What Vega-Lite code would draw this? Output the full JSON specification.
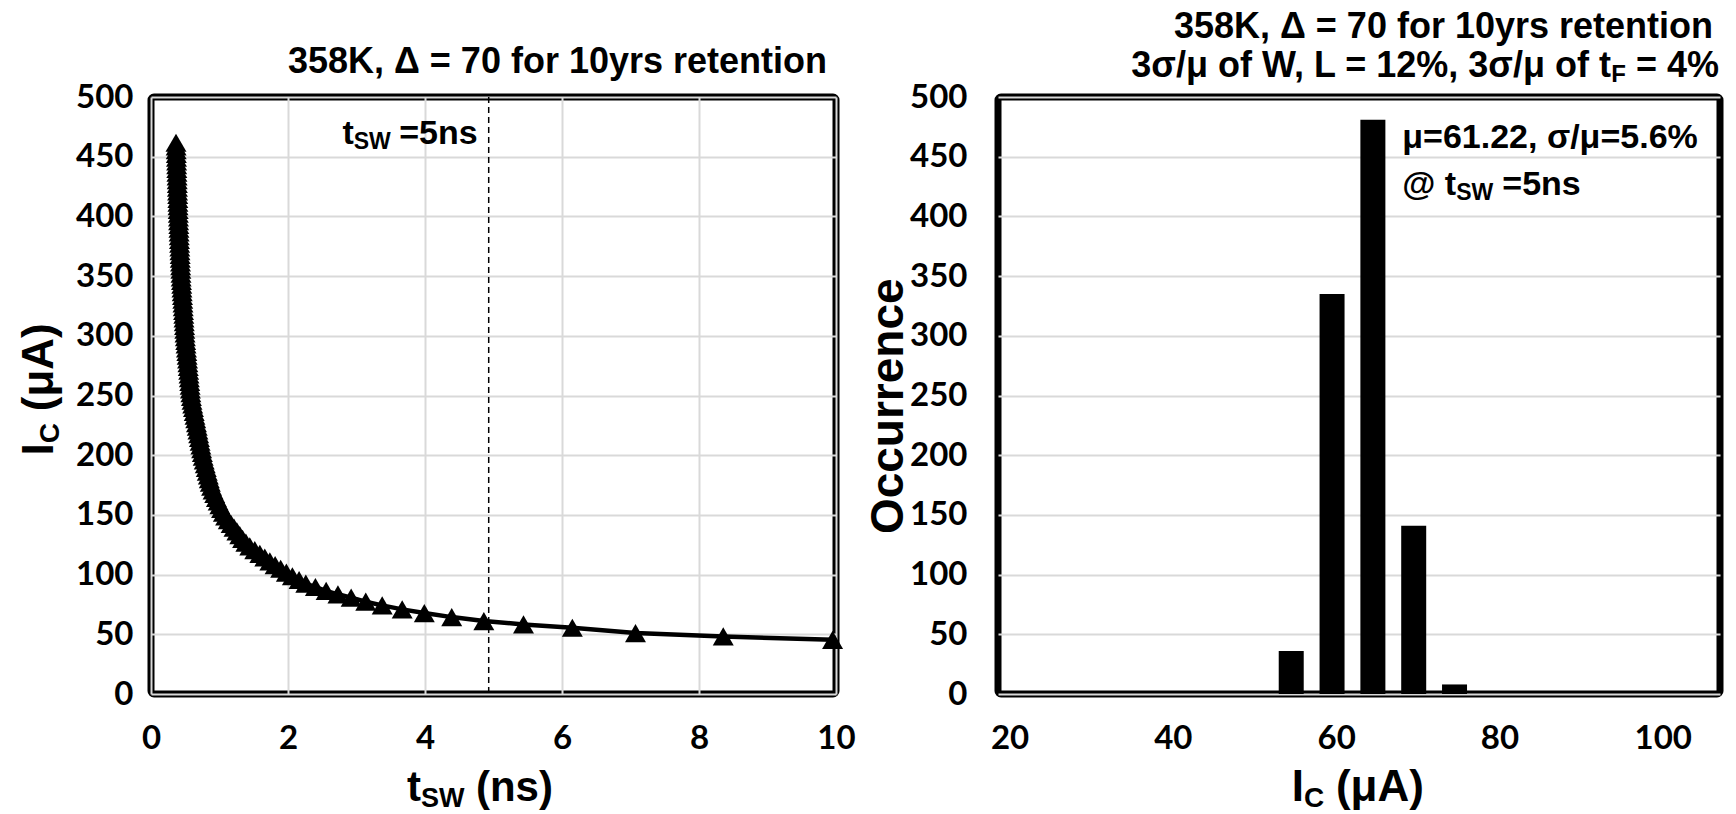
{
  "$schema": "https://vega.github.io/schema/vega-lite/v6.json",
  "background": "white",
  "padding": {"left": 14, "top": 5, "right": 5, "bottom": 5},
  "spacing": 162,
  "bounds": "flush",
  "config": {
    "view": {"stroke": "black", "strokeWidth": 7, "cornerRadius": 3},
    "axis": {
      "grid": true, "gridColor": "#d9d9d9", "gridWidth": 2,
      "domain": false, "ticks": false,
      "labelFont": "Lato", "labelFontWeight": "bold", "labelFontSize": 33, "labelColor": "black",
      "labelFlush": false, "labelOverlap": false
    }
  },
  "hconcat": [
    {
      "width": 685,
      "height": 597,
      "layer": [
        {
          "data": {"values": [{}]},
          "mark": {"type": "rule", "strokeDash": [6, 4], "strokeWidth": 1.5, "color": "black"},
          "encoding": {"x": {"datum": 4.93, "type": "quantitative", "title": null}}
        },
        {
          "data": {"values": [
            {"t": 0.365, "ic": 461.7}, {"t": 0.367, "ic": 458.6}, {"t": 0.368, "ic": 455.4}, {"t": 0.370, "ic": 452.3},
            {"t": 0.372, "ic": 449.2}, {"t": 0.374, "ic": 446.0}, {"t": 0.375, "ic": 442.9}, {"t": 0.377, "ic": 439.8},
            {"t": 0.379, "ic": 436.7}, {"t": 0.381, "ic": 433.5}, {"t": 0.383, "ic": 430.4}, {"t": 0.385, "ic": 427.3},
            {"t": 0.386, "ic": 424.1}, {"t": 0.388, "ic": 421.0}, {"t": 0.390, "ic": 417.9}, {"t": 0.392, "ic": 414.7},
            {"t": 0.393, "ic": 411.6}, {"t": 0.395, "ic": 408.5}, {"t": 0.397, "ic": 405.4}, {"t": 0.399, "ic": 402.2},
            {"t": 0.401, "ic": 399.1}, {"t": 0.403, "ic": 396.0}, {"t": 0.406, "ic": 392.8}, {"t": 0.408, "ic": 389.7},
            {"t": 0.411, "ic": 386.6}, {"t": 0.413, "ic": 383.4}, {"t": 0.416, "ic": 380.3}, {"t": 0.418, "ic": 377.2},
            {"t": 0.421, "ic": 374.0}, {"t": 0.423, "ic": 370.9}, {"t": 0.426, "ic": 367.8}, {"t": 0.428, "ic": 364.7},
            {"t": 0.431, "ic": 361.5}, {"t": 0.433, "ic": 358.4}, {"t": 0.436, "ic": 355.3}, {"t": 0.438, "ic": 352.1},
            {"t": 0.441, "ic": 349.0}, {"t": 0.445, "ic": 345.9}, {"t": 0.449, "ic": 342.8}, {"t": 0.452, "ic": 339.6},
            {"t": 0.456, "ic": 336.5}, {"t": 0.460, "ic": 333.4}, {"t": 0.464, "ic": 330.2}, {"t": 0.467, "ic": 327.1},
            {"t": 0.471, "ic": 324.0}, {"t": 0.475, "ic": 320.8}, {"t": 0.479, "ic": 317.7}, {"t": 0.482, "ic": 314.6},
            {"t": 0.486, "ic": 311.5}, {"t": 0.490, "ic": 308.3}, {"t": 0.494, "ic": 305.2}, {"t": 0.497, "ic": 302.1},
            {"t": 0.502, "ic": 298.9}, {"t": 0.507, "ic": 295.8}, {"t": 0.512, "ic": 292.7}, {"t": 0.518, "ic": 289.5},
            {"t": 0.523, "ic": 286.4}, {"t": 0.528, "ic": 283.3}, {"t": 0.534, "ic": 280.2}, {"t": 0.539, "ic": 277.0},
            {"t": 0.544, "ic": 273.9}, {"t": 0.550, "ic": 270.8}, {"t": 0.555, "ic": 267.6}, {"t": 0.560, "ic": 264.5},
            {"t": 0.566, "ic": 261.4}, {"t": 0.571, "ic": 258.2}, {"t": 0.576, "ic": 255.1}, {"t": 0.582, "ic": 252.0},
            {"t": 0.590, "ic": 248.9}, {"t": 0.599, "ic": 245.7}, {"t": 0.609, "ic": 242.6}, {"t": 0.620, "ic": 239.5},
            {"t": 0.631, "ic": 236.3}, {"t": 0.642, "ic": 233.2}, {"t": 0.653, "ic": 230.1}, {"t": 0.664, "ic": 226.9},
            {"t": 0.675, "ic": 223.8}, {"t": 0.685, "ic": 220.7}, {"t": 0.696, "ic": 217.6}, {"t": 0.707, "ic": 214.4},
            {"t": 0.717, "ic": 211.3}, {"t": 0.728, "ic": 208.2}, {"t": 0.739, "ic": 205.0}, {"t": 0.750, "ic": 201.9},
            {"t": 0.762, "ic": 198.8}, {"t": 0.777, "ic": 195.6}, {"t": 0.792, "ic": 192.5}, {"t": 0.807, "ic": 189.4},
            {"t": 0.821, "ic": 186.3}, {"t": 0.837, "ic": 183.1}, {"t": 0.851, "ic": 180.0}, {"t": 0.866, "ic": 176.9},
            {"t": 0.884, "ic": 173.7}, {"t": 0.906, "ic": 170.6}, {"t": 0.930, "ic": 167.5}, {"t": 0.955, "ic": 164.3},
            {"t": 0.980, "ic": 161.2}, {"t": 1.005, "ic": 158.1}, {"t": 1.030, "ic": 155.0}, {"t": 1.057, "ic": 151.8},
            {"t": 1.089, "ic": 148.7}, {"t": 1.128, "ic": 145.6}, {"t": 1.170, "ic": 142.4}, {"t": 1.212, "ic": 139.3},
            {"t": 1.254, "ic": 136.2}, {"t": 1.296, "ic": 133.0}, {"t": 1.337, "ic": 129.9}, {"t": 1.385, "ic": 126.8},
            {"t": 1.442, "ic": 123.7}, {"t": 1.515, "ic": 120.5}, {"t": 1.589, "ic": 117.4}, {"t": 1.661, "ic": 114.3},
            {"t": 1.735, "ic": 111.1}, {"t": 1.812, "ic": 108.0}, {"t": 1.893, "ic": 104.9}, {"t": 1.976, "ic": 101.7},
            {"t": 2.064, "ic": 98.6}, {"t": 2.162, "ic": 95.5}, {"t": 2.260, "ic": 92.4}, {"t": 2.400, "ic": 89.6},
            {"t": 2.557, "ic": 86.3}, {"t": 2.729, "ic": 83.5}, {"t": 2.922, "ic": 80.7}, {"t": 3.135, "ic": 77.3},
            {"t": 3.375, "ic": 74.2}, {"t": 3.667, "ic": 70.9}, {"t": 3.990, "ic": 67.8}, {"t": 4.390, "ic": 64.4},
            {"t": 4.859, "ic": 61.1}, {"t": 5.438, "ic": 58.3}, {"t": 6.151, "ic": 55.5}, {"t": 7.073, "ic": 51.0},
            {"t": 8.354, "ic": 48.2}, {"t": 9.950, "ic": 45.4}
          ]},
          "encoding": {
            "x": {"field": "t", "type": "quantitative", "title": null,
                  "scale": {"domain": [0, 10], "nice": false, "zero": false},
                  "axis": {"values": [0, 2, 4, 6, 8, 10], "format": "d", "labelPadding": 28}},
            "y": {"field": "ic", "type": "quantitative", "title": null,
                  "scale": {"domain": [0, 500], "nice": false},
                  "axis": {"values": [0, 50, 100, 150, 200, 250, 300, 350, 400, 450, 500], "labelPadding": 18}}
          },
          "layer": [
            {"mark": {"type": "line", "color": "black", "strokeWidth": 4.5}},
            {"mark": {"type": "point", "shape": "triangle-up", "filled": true, "color": "black", "opacity": 1, "size": 440}}
          ]
        },
        {
          "data": {"values": [{}]},
          "mark": {"type": "text", "text": "358K, Δ = 70 for 10yrs retention", "align": "right", "baseline": "alphabetic", "dx": -9, "dy": -24, "font": "Liberation Sans", "fontSize": 36, "fontWeight": "bold", "color": "black"},
          "encoding": {"x": {"datum": 10, "type": "quantitative", "title": null}, "y": {"datum": 500, "type": "quantitative", "title": null}}
        },
        {
          "data": {"values": [{}]},
          "mark": {"type": "text", "text": "=5ns", "align": "right", "baseline": "alphabetic", "dx": -11, "dy": 47, "font": "Liberation Sans", "fontSize": 34, "fontWeight": "bold", "color": "black"},
          "encoding": {"x": {"datum": 4.93, "type": "quantitative", "title": null}, "y": {"datum": 500, "type": "quantitative", "title": null}}
        },
        {
          "data": {"values": [{}]},
          "mark": {"type": "text", "text": "SW", "align": "right", "baseline": "alphabetic", "dx": -98, "dy": 52, "font": "Liberation Sans", "fontSize": 23, "fontWeight": "bold", "color": "black"},
          "encoding": {"x": {"datum": 4.93, "type": "quantitative", "title": null}, "y": {"datum": 500, "type": "quantitative", "title": null}}
        },
        {
          "data": {"values": [{}]},
          "mark": {"type": "text", "text": "t", "align": "right", "baseline": "alphabetic", "dx": -135, "dy": 47, "font": "Liberation Sans", "fontSize": 34, "fontWeight": "bold", "color": "black"},
          "encoding": {"x": {"datum": 4.93, "type": "quantitative", "title": null}, "y": {"datum": 500, "type": "quantitative", "title": null}}
        },
        {
          "data": {"values": [{}]},
          "mark": {"type": "text", "text": "I", "align": "right", "baseline": "alphabetic", "angle": 270, "dy": -98, "font": "Liberation Sans", "fontSize": 44, "fontWeight": "bold", "color": "black"},
          "encoding": {"x": {"datum": 0, "type": "quantitative", "title": null}, "y": {"datum": 210, "type": "quantitative", "title": null}}
        },
        {
          "data": {"values": [{}]},
          "mark": {"type": "text", "text": "C", "align": "left", "baseline": "alphabetic", "angle": 270, "dy": -92, "font": "Liberation Sans", "fontSize": 28, "fontWeight": "bold", "color": "black"},
          "encoding": {"x": {"datum": 0, "type": "quantitative", "title": null}, "y": {"datum": 210, "type": "quantitative", "title": null}}
        },
        {
          "data": {"values": [{}]},
          "mark": {"type": "text", "text": "(μA)", "align": "left", "baseline": "alphabetic", "angle": 270, "dx": 32, "dy": -98, "font": "Liberation Sans", "fontSize": 44, "fontWeight": "bold", "color": "black"},
          "encoding": {"x": {"datum": 0, "type": "quantitative", "title": null}, "y": {"datum": 210, "type": "quantitative", "title": null}}
        },
        {
          "data": {"values": [{}]},
          "mark": {"type": "text", "text": "t", "align": "right", "baseline": "alphabetic", "dy": 107, "font": "Liberation Sans", "fontSize": 42, "fontWeight": "bold", "color": "black"},
          "encoding": {"x": {"datum": 3.94, "type": "quantitative", "title": null}, "y": {"datum": 0, "type": "quantitative", "title": null}}
        },
        {
          "data": {"values": [{}]},
          "mark": {"type": "text", "text": "SW", "align": "left", "baseline": "alphabetic", "dy": 113, "font": "Liberation Sans", "fontSize": 27, "fontWeight": "bold", "color": "black"},
          "encoding": {"x": {"datum": 3.94, "type": "quantitative", "title": null}, "y": {"datum": 0, "type": "quantitative", "title": null}}
        },
        {
          "data": {"values": [{}]},
          "mark": {"type": "text", "text": "(ns)", "align": "left", "baseline": "alphabetic", "dx": 55, "dy": 107, "font": "Liberation Sans", "fontSize": 42, "fontWeight": "bold", "color": "black"},
          "encoding": {"x": {"datum": 3.94, "type": "quantitative", "title": null}, "y": {"datum": 0, "type": "quantitative", "title": null}}
        }
      ]
    },
    {
      "width": 722,
      "height": 597,
      "layer": [
        {
          "data": {"values": [
            {"ic": 54.5, "n": 36}, {"ic": 59.5, "n": 335}, {"ic": 64.5, "n": 481}, {"ic": 69.5, "n": 141}, {"ic": 74.5, "n": 8}
          ]},
          "mark": {"type": "bar", "color": "black", "width": 25},
          "encoding": {
            "x": {"field": "ic", "type": "quantitative", "title": null,
                  "scale": {"domain": [19.2, 106.4], "nice": false, "zero": false},
                  "axis": {"values": [20, 40, 60, 80, 100], "labelPadding": 28, "grid": false}},
            "y": {"field": "n", "type": "quantitative", "title": null,
                  "scale": {"domain": [0, 500], "nice": false},
                  "axis": {"values": [0, 50, 100, 150, 200, 250, 300, 350, 400, 450, 500], "labelPadding": 31}}
          }
        },
        {
          "data": {"values": [{}]},
          "mark": {"type": "text", "text": "358K, Δ = 70 for 10yrs retention", "align": "right", "baseline": "alphabetic", "dx": -2, "dy": -59, "font": "Liberation Sans", "fontSize": 36, "fontWeight": "bold", "color": "black"},
          "encoding": {"x": {"datum": 106.4, "type": "quantitative", "title": null}, "y": {"datum": 500, "type": "quantitative", "title": null}}
        },
        {
          "data": {"values": [{}]},
          "mark": {"type": "text", "text": "= 4%", "align": "right", "baseline": "alphabetic", "dx": 4, "dy": -20, "font": "Liberation Sans", "fontSize": 36, "fontWeight": "bold", "color": "black"},
          "encoding": {"x": {"datum": 106.4, "type": "quantitative", "title": null}, "y": {"datum": 500, "type": "quantitative", "title": null}}
        },
        {
          "data": {"values": [{}]},
          "mark": {"type": "text", "text": "F", "align": "right", "baseline": "alphabetic", "dx": -89, "dy": -15, "font": "Liberation Sans", "fontSize": 24, "fontWeight": "bold", "color": "black"},
          "encoding": {"x": {"datum": 106.4, "type": "quantitative", "title": null}, "y": {"datum": 500, "type": "quantitative", "title": null}}
        },
        {
          "data": {"values": [{}]},
          "mark": {"type": "text", "text": "3σ/μ of W, L = 12%, 3σ/μ of t", "align": "right", "baseline": "alphabetic", "dx": -104, "dy": -20, "font": "Liberation Sans", "fontSize": 36, "fontWeight": "bold", "color": "black"},
          "encoding": {"x": {"datum": 106.4, "type": "quantitative", "title": null}, "y": {"datum": 500, "type": "quantitative", "title": null}}
        },
        {
          "data": {"values": [{}]},
          "mark": {"type": "text", "text": "μ=61.22, σ/μ=5.6%", "align": "left", "baseline": "alphabetic", "dy": 51, "font": "Liberation Sans", "fontSize": 34, "fontWeight": "bold", "color": "black"},
          "encoding": {"x": {"datum": 68.1, "type": "quantitative", "title": null}, "y": {"datum": 500, "type": "quantitative", "title": null}}
        },
        {
          "data": {"values": [{}]},
          "mark": {"type": "text", "text": "@ t", "align": "left", "baseline": "alphabetic", "dy": 98, "font": "Liberation Sans", "fontSize": 34, "fontWeight": "bold", "color": "black"},
          "encoding": {"x": {"datum": 68.1, "type": "quantitative", "title": null}, "y": {"datum": 500, "type": "quantitative", "title": null}}
        },
        {
          "data": {"values": [{}]},
          "mark": {"type": "text", "text": "SW", "align": "left", "baseline": "alphabetic", "dx": 54, "dy": 103, "font": "Liberation Sans", "fontSize": 23, "fontWeight": "bold", "color": "black"},
          "encoding": {"x": {"datum": 68.1, "type": "quantitative", "title": null}, "y": {"datum": 500, "type": "quantitative", "title": null}}
        },
        {
          "data": {"values": [{}]},
          "mark": {"type": "text", "text": "=5ns", "align": "left", "baseline": "alphabetic", "dx": 100, "dy": 98, "font": "Liberation Sans", "fontSize": 34, "fontWeight": "bold", "color": "black"},
          "encoding": {"x": {"datum": 68.1, "type": "quantitative", "title": null}, "y": {"datum": 500, "type": "quantitative", "title": null}}
        },
        {
          "data": {"values": [{}]},
          "mark": {"type": "text", "text": "Occurrence", "align": "center", "baseline": "alphabetic", "angle": 270, "dy": -100, "font": "Liberation Sans", "fontSize": 46, "fontWeight": "bold", "color": "black"},
          "encoding": {"x": {"datum": 19.2, "type": "quantitative", "title": null}, "y": {"datum": 241, "type": "quantitative", "title": null}}
        },
        {
          "data": {"values": [{}]},
          "mark": {"type": "text", "text": "I", "align": "right", "baseline": "alphabetic", "dy": 107, "font": "Liberation Sans", "fontSize": 44, "fontWeight": "bold", "color": "black"},
          "encoding": {"x": {"datum": 56.05, "type": "quantitative", "title": null}, "y": {"datum": 0, "type": "quantitative", "title": null}}
        },
        {
          "data": {"values": [{}]},
          "mark": {"type": "text", "text": "C", "align": "left", "baseline": "alphabetic", "dy": 113, "font": "Liberation Sans", "fontSize": 28, "fontWeight": "bold", "color": "black"},
          "encoding": {"x": {"datum": 56.05, "type": "quantitative", "title": null}, "y": {"datum": 0, "type": "quantitative", "title": null}}
        },
        {
          "data": {"values": [{}]},
          "mark": {"type": "text", "text": "(μA)", "align": "left", "baseline": "alphabetic", "dx": 32, "dy": 107, "font": "Liberation Sans", "fontSize": 44, "fontWeight": "bold", "color": "black"},
          "encoding": {"x": {"datum": 56.05, "type": "quantitative", "title": null}, "y": {"datum": 0, "type": "quantitative", "title": null}}
        }
      ]
    }
  ]
}
